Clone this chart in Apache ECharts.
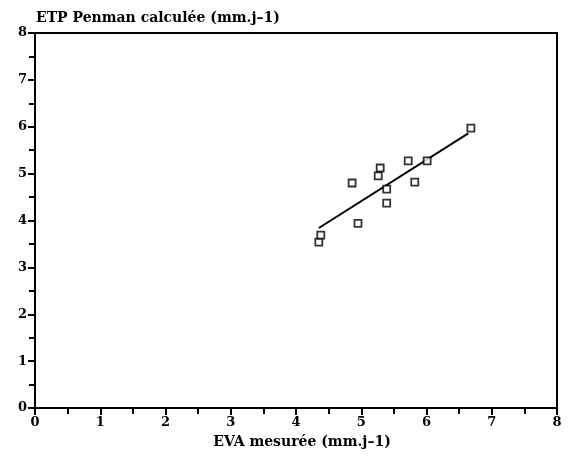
<!DOCTYPE html>
<html>
<head>
<meta charset="utf-8">
<script src="https://cdn.jsdelivr.net/npm/echarts@6/dist/echarts.min.js"></script>
<style>
  html, body { margin: 0; padding: 0; background: #fff; }
  #chart { width: 573px; height: 459px; }
</style>
</head>
<body>
<div id="chart"></div>
<script>
// mesures EVA (x) et ETP Penman (y)
const evaValues = [4.35, 4.38, 4.86, 4.95, 5.26, 5.29, 5.39, 5.39, 5.72, 5.82, 6.01, 6.68]
const etpValues = [3.54, 3.69, 4.80, 3.94, 4.95, 5.12, 4.67, 4.37, 5.27, 4.82, 5.27, 5.97]

// droite de régression (extrémités)
const fitX = [4.35, 6.64]
const fitY = [3.84, 5.86]

const axisMin = 0
const axisMax = 8

const xTitle = 'EVA mesurée (mm.j–1)'
const yTitle = 'ETP Penman calculée (mm.j–1)'

const font = '"DejaVu Serif", "Liberation Serif", serif'

const chart = echarts.init(document.getElementById('chart'))

const axisBase = {
  type: 'value',
  min: axisMin,
  max: axisMax,
  interval: 1,
  splitLine: { show: false },
  axisLine: { show: true, onZero: false, lineStyle: { color: '#000', width: 2 } },
  axisTick: { show: true, inside: false, length: 7, lineStyle: { color: '#000', width: 2 } },
  minorTick: { show: true, splitNumber: 2, length: 6, lineStyle: { color: '#000', width: 2 } },
  axisLabel: { color: '#000', fontFamily: font, fontWeight: 'bold', fontSize: 13 }
}

chart.setOption({
  animation: false,
  backgroundColor: '#fff',
  grid: { left: 35, right: 16, top: 33, bottom: 51, show: true, borderColor: '#000', borderWidth: 2 },
  title: [
    {
      text: yTitle,
      left: 31, top: 6,
      textStyle: { fontFamily: font, fontWeight: 'bold', fontSize: 14, color: '#000' }
    },
    {
      text: xTitle,
      left: 297, top: 430, textAlign: 'center',
      textStyle: { fontFamily: font, fontWeight: 'bold', fontSize: 14, color: '#000' }
    }
  ],
  xAxis: Object.assign({}, axisBase, {
    axisLabel: Object.assign({}, axisBase.axisLabel, { margin: 8 })
  }),
  yAxis: Object.assign({}, axisBase, {
    axisLabel: Object.assign({}, axisBase.axisLabel, { margin: 8 })
  }),
  series: [
    {
      type: 'line',
      data: fitX.map((x, i) => [x, fitY[i]]),
      showSymbol: false,
      lineStyle: { color: '#000', width: 2 },
      z: 2
    },
    {
      type: 'scatter',
      data: evaValues.map((x, i) => [x, etpValues[i]]),
      symbol: 'rect',
      symbolSize: 7,
      itemStyle: { color: '#fff', borderColor: '#000', borderWidth: 1.8 },
      z: 3
    }
  ]
})
</script>
</body>
</html>
